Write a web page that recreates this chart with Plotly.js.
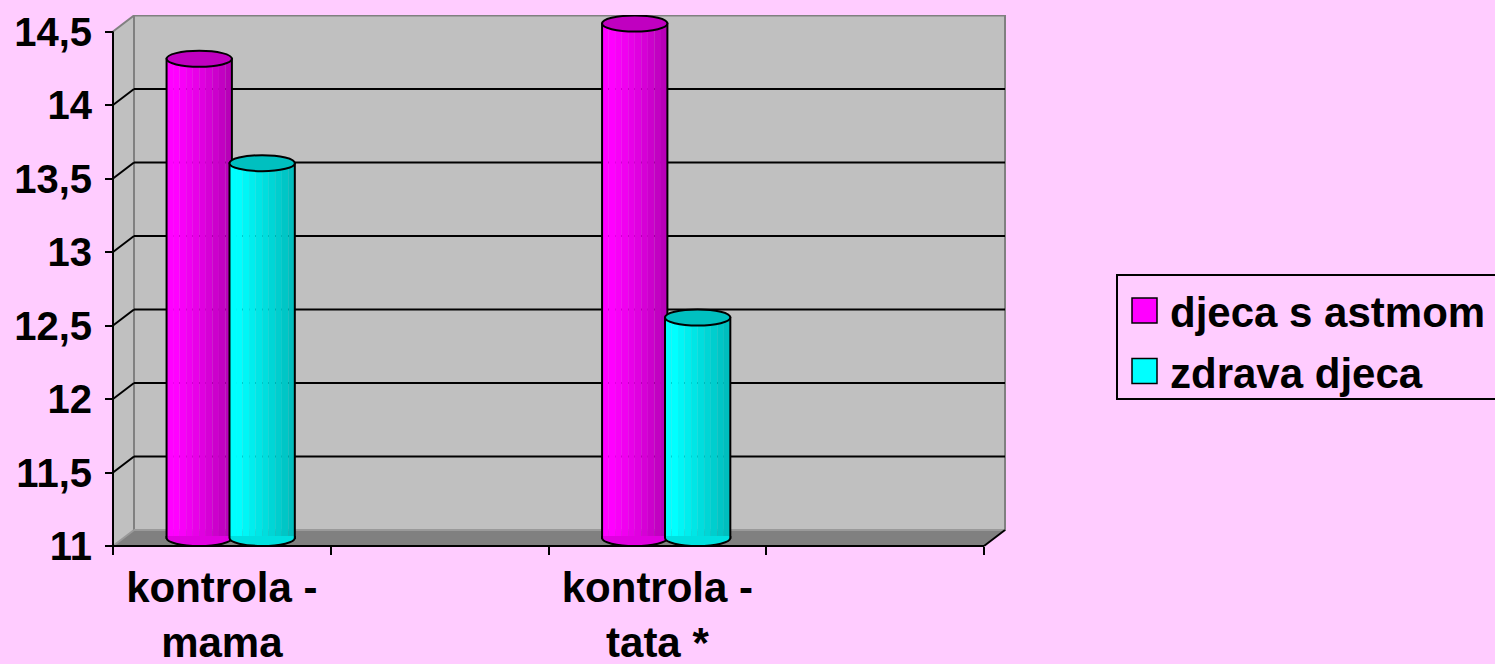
<!DOCTYPE html>
<html>
<head>
<meta charset="utf-8">
<script src="https://cdn.plot.ly/plotly-3.0.1.min.js"></script>
<style>
  html, body { margin: 0; padding: 0; background: #FFCCFF; }
  #chart { width: 1495px; height: 664px; }
</style>
</head>
<body>
<div id="chart"></div>
<script>
// ---- data ----
const categories = ["kontrola - mama", "", "kontrola - tata *", ""];
const tickLabels = ["kontrola -<br>mama", "", "kontrola -<br>tata *", ""];
const seriesNames = ["djeca s astmom", "zdrava djeca"];
const astma = [14.26, null, 14.5, null];
const zdrava = [13.55, null, 12.5, null];
const yTicks = [11, 11.5, 12, 12.5, 13, 13.5, 14, 14.5];
const yTickText = ["11", "11,5", "12", "12,5", "13", "13,5", "14", "14,5"];

// ---- geometry (pixel scale of the pseudo-3D frame) ----
const PXX = 217.75, PXY = 147;
const DX = 21 / PXX, DY = 16 / PXY;       // depth offset of back wall
const MID = 8 / PXY, CAP = 8 / PXY;       // bars sit at mid depth; cap half-height
const Y0 = 11, YTOP = 14.5;
const XL = -0.5, XR = categories.length - 0.5;
const xRange = [XL - 3 / PXX, XR + DX + 1 / PXX];
const yRange = [Y0 - 3 / PXY, YTOP + DY + 0.5 / PXY];
const xIdx = categories.map((c, i) => i);

const FONT = 'Liberation Sans, Arial, sans-serif';
const N = 10;
const series = [
  { name: seriesNames[0], vals: astma, offset: -0.254, width: 0.30,
    stripes: ['#FF00FF','#FF00FF','#F800F8','#F000F0','#E800E8','#E000E0','#D600D6','#CC00CC','#C200C2','#B800B8'],
    cap: '#C000C0', bottom: '#E000E0', legend: '#FF00FF' },
  { name: seriesNames[1], vals: zdrava, offset: 0.035, width: 0.30,
    stripes: ['#00FFFF','#00FFFF','#00F6F6','#00EEEE','#00E6E6','#00DEDE','#00D6D6','#00CECE','#00C6C6','#00BEBE'],
    cap: '#00C0C0', bottom: '#00E0E0', legend: '#00FFFF' }
];

const traces = [];
const aboveShapes = [];
series.forEach(s => {
  const h = s.vals.map(v => v == null ? null : v - Y0);
  for (let i = 0; i < N; i++) {
    traces.push({
      type: 'bar', x: xIdx, y: h, base: Y0 + MID,
      offset: s.offset + i * s.width / N, width: s.width / N + 0.0005,
      marker: { color: s.stripes[i], line: { width: 0 } },
      showlegend: false, hoverinfo: 'skip', name: s.name
    });
  }
  traces.push({
    type: 'bar', x: xIdx, y: h, base: Y0 + MID,
    offset: s.offset, width: s.width,
    marker: { color: 'rgba(0,0,0,0)', line: { color: '#000', width: 2 } },
    showlegend: false, hoverinfo: 'skip', name: s.name
  });
  s.vals.forEach((v, i) => {
    if (v == null) return;
    const xl = i + s.offset, xr = xl + s.width, xc = (xl + xr) / 2, hw = s.width / 2;
    const yb = Y0 + MID, e = 2 / PXY, k = 0.5523;
    aboveShapes.push({
      type: 'path', xref: 'x', yref: 'y', layer: 'above',
      path: `M ${xl},${yb + e} L ${xl},${yb} C ${xl},${yb - k * CAP} ${xc - k * hw},${yb - CAP} ${xc},${yb - CAP} ` +
            `C ${xc + k * hw},${yb - CAP} ${xr},${yb - k * CAP} ${xr},${yb} L ${xr},${yb + e}`,
      fillcolor: s.bottom, line: { color: '#000', width: 2 }
    });
    aboveShapes.push({
      type: 'circle', xref: 'x', yref: 'y', layer: 'above',
      x0: xl, x1: xr, y0: v + MID - CAP, y1: v + MID + CAP,
      fillcolor: s.cap, line: { color: '#000', width: 2 }
    });
  });
});
// dummy trace for the boundary-tick axis
traces.push({ type: 'scatter', x: [null], y: [null], xaxis: 'x2', yaxis: 'y', showlegend: false, hoverinfo: 'skip' });

// ---- frame shapes ----
const below = [];
below.push({ type: 'rect', xref: 'x', yref: 'y', layer: 'below',
  x0: XL + DX, x1: XR + DX, y0: Y0 + DY, y1: YTOP + DY,
  fillcolor: '#C0C0C0', line: { color: '#808080', width: 2 } });
below.push({ type: 'path', xref: 'x', yref: 'y', layer: 'below',
  path: `M ${XL},${Y0} L ${XL},${YTOP} L ${XL + DX},${YTOP + DY} L ${XL + DX},${Y0 + DY} Z`,
  fillcolor: '#C0C0C0', line: { width: 0 } });
below.push({ type: 'line', xref: 'x', yref: 'y', layer: 'below',
  x0: XL, y0: YTOP, x1: XL + DX, y1: YTOP + DY, line: { color: '#808080', width: 2 } });
below.push({ type: 'line', xref: 'x', yref: 'y', layer: 'below',
  x0: XL + DX, y0: Y0 + DY, x1: XL + DX, y1: YTOP + DY, line: { color: '#808080', width: 2 } });
below.push({ type: 'path', xref: 'x', yref: 'y', layer: 'below',
  path: `M ${XL},${Y0} L ${XR},${Y0} L ${XR + DX},${Y0 + DY} L ${XL + DX},${Y0 + DY} Z`,
  fillcolor: '#808080', line: { width: 0 } });
below.push({ type: 'line', xref: 'x', yref: 'y', layer: 'below',
  x0: XL + DX, y0: Y0 + DY, x1: XR + DX, y1: Y0 + DY, line: { color: '#9A9A9A', width: 2 } });
below.push({ type: 'line', xref: 'x', yref: 'y', layer: 'below',
  x0: XL, y0: Y0, x1: XL + DX, y1: Y0 + DY, line: { color: '#9A9A9A', width: 2 } });
yTicks.forEach(v => {
  if (v === Y0 || v === YTOP) return;
  below.push({ type: 'line', xref: 'x', yref: 'y', layer: 'below',
    x0: XL + DX, y0: v + DY, x1: XR + DX, y1: v + DY, line: { color: '#000', width: 2 } });
  below.push({ type: 'line', xref: 'x', yref: 'y', layer: 'below',
    x0: XL, y0: v, x1: XL + DX, y1: v + DY, line: { color: '#000', width: 2 } });
});
const frontLines = [
  { type: 'line', xref: 'x', yref: 'y', layer: 'above', x0: XL, y0: Y0, x1: XR, y1: Y0, line: { color: '#000', width: 2 } },
  { type: 'line', xref: 'x', yref: 'y', layer: 'above', x0: XR, y0: Y0, x1: XR + DX, y1: Y0 + DY, line: { color: '#000', width: 2 } },
  { type: 'line', xref: 'x', yref: 'y', layer: 'above', x0: XL, y0: Y0, x1: XL, y1: YTOP, line: { color: '#000', width: 2 } }
];

// ---- custom legend (paper coords) ----
const PL = 110, PT = 15, PW = 896, PH = 534;
const px = x => (x - PL) / PW, py = y => (PT + PH - y) / PH;
const legendShapes = [
  { type: 'rect', xref: 'paper', yref: 'paper', x0: px(1117), x1: px(1520), y0: py(399), y1: py(275),
    fillcolor: 'rgba(0,0,0,0)', line: { color: '#000', width: 2 } }
];
const legendRows = [310.5, 371];
const annotations = [];
series.forEach((s, i) => {
  const cy = legendRows[i];
  legendShapes.push({ type: 'rect', xref: 'paper', yref: 'paper',
    x0: px(1132), x1: px(1157), y0: py(cy + 12.5), y1: py(cy - 12.5),
    fillcolor: s.legend, line: { color: '#000', width: 1.5 } });
  annotations.push({ xref: 'paper', yref: 'paper', x: px(1168), y: py(cy + 2), xanchor: 'left', yanchor: 'middle',
    text: s.name, showarrow: false, font: { family: FONT, size: 42, color: '#000', weight: 700 } });
});

const layout = {
  width: 1495, height: 664,
  margin: { l: PL, r: 1495 - PL - PW, t: PT, b: 664 - PT - PH, pad: 0 },
  paper_bgcolor: '#FFCCFF', plot_bgcolor: 'rgba(0,0,0,0)',
  barmode: 'overlay', showlegend: false,
  font: { family: FONT, color: '#000', weight: 700 },
  xaxis: {
    type: 'linear', range: xRange, tickvals: xIdx, ticktext: tickLabels,
    ticks: '', showgrid: false, zeroline: false, showline: false,
    anchor: 'free', position: 3 / PH, ticklabelstandoff: 13,
    tickfont: { family: FONT, size: 42, color: '#000', weight: 700 }, fixedrange: true
  },
  xaxis2: {
    type: 'linear', overlaying: 'x', range: xRange,
    tickvals: xIdx.map(i => i - 0.5).concat([XR]), showticklabels: false,
    ticks: 'outside', ticklen: 8, tickwidth: 2, tickcolor: '#000',
    showgrid: false, zeroline: false, showline: false, anchor: 'free', position: 3 / PH, side: 'bottom'
  },
  yaxis: {
    range: yRange, tickvals: yTicks, ticktext: yTickText,
    ticks: 'outside', ticklen: 8, tickwidth: 2, tickcolor: '#000',
    showgrid: false, zeroline: false, showline: false,
    anchor: 'free', position: 3 / PW, ticklabelstandoff: 5,
    tickfont: { family: FONT, size: 40, color: '#000', weight: 700 }, fixedrange: true
  },
  shapes: below.concat(frontLines, aboveShapes, legendShapes),
  annotations: annotations
};

Plotly.newPlot('chart', traces, layout, { staticPlot: true, displayModeBar: false });
</script>
</body>
</html>
